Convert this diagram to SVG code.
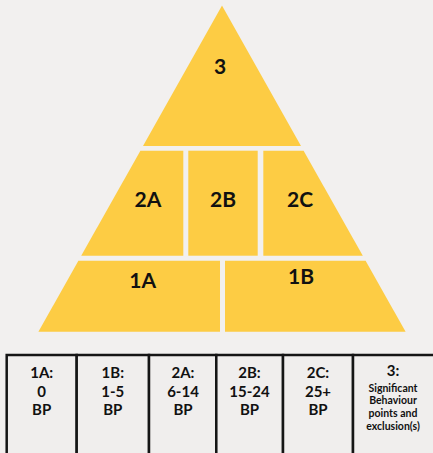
<svg xmlns="http://www.w3.org/2000/svg" width="433" height="453" viewBox="0 0 433 453">
<style>
.seg{fill:#FDCC44}
.lbl{font-family:Lato,"Open Sans",sans-serif;font-weight:bold;font-size:21px;fill:#111;text-anchor:middle}
.t{font-family:Lato,"Open Sans",sans-serif;font-weight:bold;font-size:15px;fill:#111;text-anchor:middle}
.s{font-family:Lato,"Open Sans",sans-serif;font-weight:bold;font-size:10.5px;fill:#111;text-anchor:middle}
.cell{fill:#F0EEED;stroke:#151515;stroke-width:2.5}
</style>
<rect width="433" height="453" fill="#F2F0EF"/>
<g id="n3"><polygon class="seg" points="222,5.5 301,146 143,146"/><text class="lbl" x="220" y="74">3</text></g>
<g id="n2A"><polygon class="seg" points="140.4,150.7 183.3,150.7 183.3,255.7 81.2,255.7"/><text class="lbl" x="148" y="206.7">2A</text></g>
<g id="n2B"><rect class="seg" x="188.3" y="150.7" width="69.4" height="105"/><text class="lbl" x="223" y="206.7">2B</text></g>
<g id="n2C"><polygon class="seg" points="263.3,150.7 303.6,150.7 362.8,255.7 263.3,255.7"/><text class="lbl" x="300" y="206.7">2C</text></g>
<g id="n1A"><polygon class="seg" points="78.4,260.7 220,260.7 220,331.7 38.4,331.7"/><text class="lbl" x="142.7" y="288">1A</text></g>
<g id="n1B"><polygon class="seg" points="225,260.7 365.6,260.7 405.6,331.7 225,331.7"/><text class="lbl" x="301" y="284">1B</text></g>
<g id="table">
<rect class="cell" x="6.7" y="355" width="70" height="110"/>
<rect class="cell" x="76.7" y="355" width="72.3" height="110"/>
<rect class="cell" x="149" y="355" width="67.3" height="110"/>
<rect class="cell" x="216.3" y="355" width="66.7" height="110"/>
<rect class="cell" x="283" y="355" width="70" height="110"/>
<rect class="cell" x="353" y="355" width="90" height="110"/>
<text class="t" x="41.7" y="378"><tspan x="41.7">1A:</tspan><tspan x="41.7" dy="18.5">0</tspan><tspan x="41.7" dy="18.5">BP</tspan></text>
<text class="t" x="112.8" y="378"><tspan x="112.8">1B:</tspan><tspan x="112.8" dy="18.5">1-5</tspan><tspan x="112.8" dy="18.5">BP</tspan></text>
<text class="t" x="183" y="378"><tspan x="183">2A:</tspan><tspan x="183" dy="18.5">6-14</tspan><tspan x="183" dy="18.5">BP</tspan></text>
<text class="t" x="249.5" y="378"><tspan x="249.5">2B:</tspan><tspan x="249.5" dy="18.5">15-24</tspan><tspan x="249.5" dy="18.5">BP</tspan></text>
<text class="t" x="318" y="378"><tspan x="318">2C:</tspan><tspan x="318" dy="18.5">25+</tspan><tspan x="318" dy="18.5">BP</tspan></text>
<text class="t" x="393" y="376">3:</text>
<text class="s" x="393" y="391.5"><tspan x="393">Significant</tspan><tspan x="393" dy="12.8">Behaviour</tspan><tspan x="393" dy="12.8">points and</tspan><tspan x="393" dy="12.8">exclusion(s)</tspan></text>
</g>
</svg>
